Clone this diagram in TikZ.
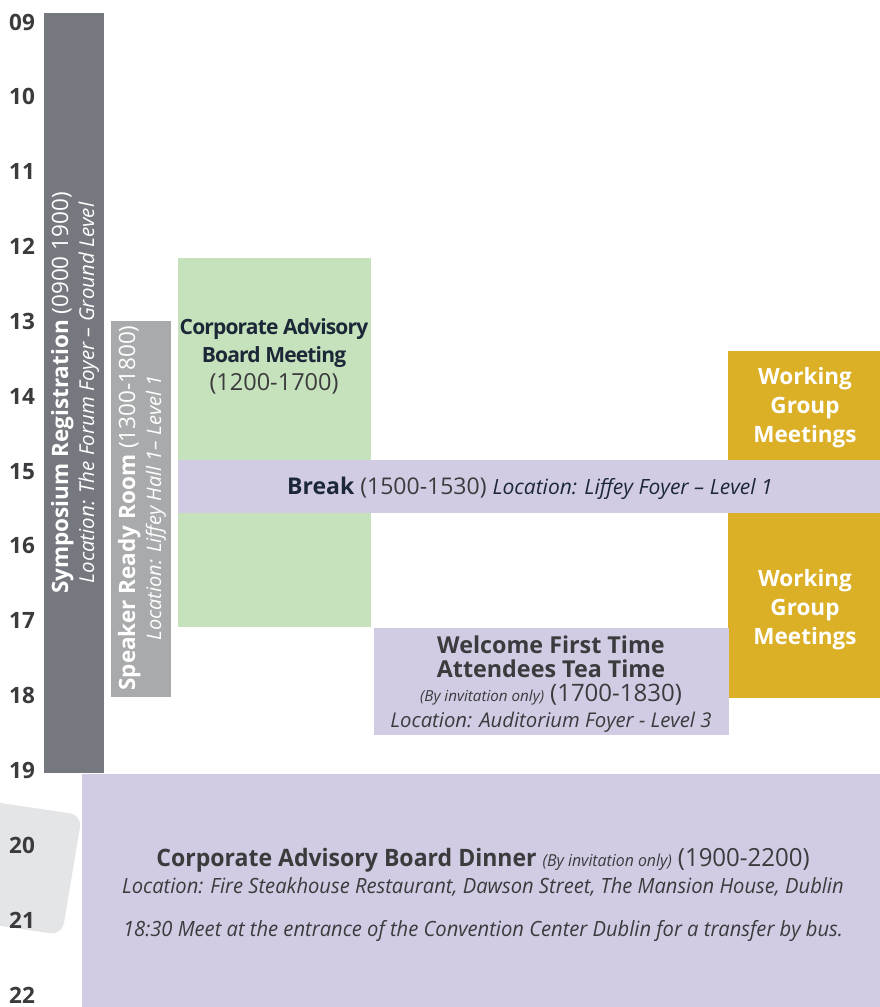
\documentclass[tikz,border=0pt]{standalone}
\usepackage{fontspec}
\setmainfont{Open Sans}
\newfontfamily\narrowfont[FakeStretch=0.96]{Open Sans}

\definecolor{regbar}{HTML}{76787F}
\definecolor{readybar}{HTML}{A9AAAC}
\definecolor{boardgreen}{HTML}{C6E2BC}
\definecolor{lilac}{HTML}{D1CCE4}
\definecolor{gold}{HTML}{DBAF26}
\definecolor{paper}{HTML}{E4E5E7}
\definecolor{ink}{HTML}{3B3B3D}
\definecolor{navy}{HTML}{1C2838}

\tikzset{every node/.style={inner sep=0pt}}
\tikzstyle{hour} = [anchor=west,text=ink,font=\fontsize{22.5}{24}\selectfont\bfseries]

\begin{document}
\begin{tikzpicture}[x=1pt,y=-1pt,
  vlabel/.style={rotate=90,align=center,text=white,font=\fontsize{22.5}{26}\selectfont},
  blabel/.style={align=center,text=ink,font=\fontsize{20}{28}\selectfont},
  wlabel/.style={align=center,text=white,font=\fontsize{22.5}{29}\selectfont\bfseries}]
\useasboundingbox (0,0) rectangle (880,1007);
% tilted card behind the evening hours
\fill [paper,rounded corners=12pt] (-40,797) -- (82,815) -- (62,935) -- (-60,917) -- cycle;
% hour scale
\foreach \h [count=\i from 0] in {09,10,11,12,13,14,15,16,17,18,19,20,21,22}
  \node (h\h) [hour] at (9,22+\i*74.85) {\h};
% blocks
\fill [regbar] (44,13) rectangle (104,773);
\fill [readybar] (111,321) rectangle (171,697);
\fill [boardgreen] (178,258) rectangle (371,627);
\fill [gold] (728,351) rectangle (880,460);
\fill [gold] (728,513) rectangle (880,698);
\fill [lilac] (178,460) rectangle (880,513);
\fill [lilac] (374,628) rectangle (729,735);
\fill [lilac] (82,774) rectangle (880,1007);
% texts
\node (reg) [vlabel] at (75,393) {\textbf{Symposium Registration} (0900 1900)\\
  {\fontsize{20.5}{20}\selectfont\itshape Location: The Forum Foyer -- Ground Level}};
\node (ready) [vlabel] at (142,508) {\textbf{Speaker Ready Room} (1300-1800)\\
  {\fontsize{20}{20}\selectfont\itshape Location: Liffey Hall 1-- Level 1}};
\node (board) [blabel,anchor=north,font=\fontsize{21}{28}\selectfont] at (274,318)
  {{\color{navy}\bfseries\addfontfeature{LetterSpace=-4}Corporate Advisory}\\
   {\color{navy}\bfseries\addfontfeature{LetterSpace=-4}Board Meeting}\\{\fontsize{23.5}{28}\selectfont(1200-1700)}};
\node (break) [blabel,font=\fontsize{23}{28}\selectfont] at (530,488) {\textbf{\color{navy}Break} (1500-1530)
  {\color{navy}\itshape\fontsize{21}{20}\selectfont Location: Liffey Foyer -- Level 1}};
\node (wg1) [wlabel] at (805,408) {Working\\Group\\Meetings};
\node (wg2) [wlabel] at (805,610) {Working\\Group\\Meetings};
\node (tea) [blabel,anchor=north,font=\fontsize{23.3}{24}\selectfont] at (551,636)
  {\bfseries Welcome First Time\\\bfseries Attendees Tea Time\\
   {\fontsize{15.2}{16}\selectfont\itshape (By invitation only)} {\fontsize{24}{24}\selectfont(1700-1830)}\\[2pt]
   {\fontsize{20.3}{18}\selectfont\itshape Location: Auditorium Foyer - Level 3}};
\node (dinner) [blabel,anchor=north,font=\narrowfont\fontsize{24}{27}\selectfont] at (483,848)
  {\textbf{Corporate Advisory Board Dinner} {\fontsize{16.5}{16}\selectfont\itshape (By invitation only)} {\fontsize{25}{27}\selectfont(1900-2200)}\\
   {\fontsize{21}{20}\selectfont\itshape Location: Fire Steakhouse Restaurant, Dawson Street, The Mansion House, Dublin}\\[16pt]
   {\fontsize{21}{20}\selectfont\itshape 18:30 Meet at the entrance of the Convention Center Dublin for a transfer by bus.}};
\end{tikzpicture}
\end{document}
